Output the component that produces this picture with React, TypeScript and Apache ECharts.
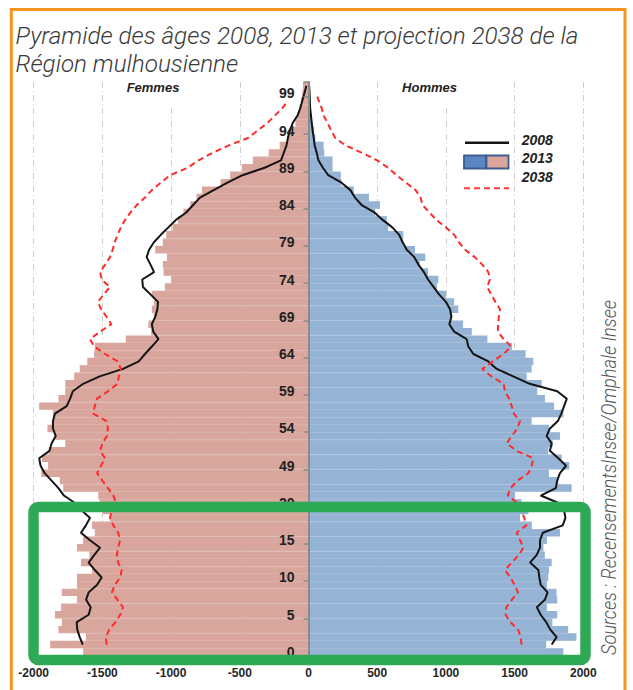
import React, { useEffect, useRef } from "react";
import * as echarts from "echarts";

// ---- data ----
const ages = [
  0, 1, 2, 3, 4, 5, 6, 7, 8, 9, 10, 11, 12, 13, 14, 15, 16, 17, 18, 19, 20,
  45, 46, 47, 48, 49, 50, 51, 52, 53, 54, 55, 56, 57, 58, 59, 60, 61, 62, 63, 64,
  65, 66, 67, 68, 69, 70, 71, 72, 73, 74, 75, 76, 77, 78, 79, 80, 81, 82, 83, 84,
  85, 86, 87, 88, 89, 90, 91, 92, 93, 94, 95, 96, 97, 98, 99, 100,
];

const femmes2013 = [
  1640, 1880, 1620, 1820, 1795, 1845, 1800, 1685, 1795, 1685, 1685, 1575, 1655, 1595, 1685, 1640, 1555, 1575, 1445, 1495, 1520,
  1530, 1785, 1810, 1945, 1895, 1940, 1890, 1770, 1845, 1900, 1860, 1860, 1960, 1820, 1770, 1770, 1705, 1665, 1610, 1560,
  1555, 1330, 1145, 1165, 1125, 1140, 1125, 1140, 1045, 1000, 1055, 1060, 1030, 1115, 1060, 1035, 990, 950, 910, 860,
  815, 775, 640, 570, 485, 405, 290, 210, 155, 115, 95, 80, 65, 55, 45, 40,
];

const hommes2013 = [
  1855, 1730, 1950, 1890, 1775, 1810, 1735, 1810, 1805, 1735, 1745, 1750, 1770, 1720, 1710, 1735, 1830, 1625, 1540, 1600, 1550,
  1503, 1915, 1818, 1750, 1898, 1843, 1746, 1777, 1830, 1750, 1624, 1855, 1787, 1721, 1665, 1697, 1588, 1624, 1636, 1580,
  1480, 1302, 1188, 1125, 1040, 1090, 1060, 1000, 935, 945, 870, 810, 850, 775, 690, 690, 580, 570, 485, 520,
  440, 330, 240, 235, 175, 175, 115, 110, 50, 40, 25, 18, 12, 8, 5, 3,
];

const femmes2008 = [
  null, 1643, 1665, 1683, 1687, 1600, 1585, 1619, 1600, 1540, 1505, 1555, 1600, 1560, 1517, 1590, 1656, 1620, 1590, 1650, 1700,
  1780, 1820, 1870, 1920, 1950, 1960, 1885, 1870, 1840, 1860, 1860, 1845, 1760, 1735, 1715, 1640, 1520, 1350, 1235, 1190,
  1140, 1092, 1130, 1140, 1115, 1100, 1095, 1150, 1205, 1210, 1124, 1150, 1178, 1160, 1125, 1075, 1020, 965, 890, 840,
  790, 690, 590, 480, 320, 200, 180, 160, 150, 135, 115, 80, 60, 45, 30, 15,
];

const hommes2008 = [
  null, 1770, 1806, 1760, 1730, 1690, 1662, 1720, 1740, 1690, 1680, 1673, 1612, 1660, 1685, 1685, 1705, 1850, 1870, 1860, 1820,
  1690, 1800, 1810, 1830, 1875, 1818, 1757, 1770, 1733, 1757, 1815, 1840, 1860, 1880, 1810, 1610, 1490, 1370, 1309, 1200,
  1163, 1151, 1060, 1025, 1040, 1030, 1000, 950, 910, 870, 840, 800, 770, 715, 685, 660, 610, 540, 480, 387,
  338, 305, 240, 144, 105, 72, 60, 45, 38, 30, 24, 18, 12, 10, 8, 5,
];

const femmes2038 = [
  null, 1469, 1475, 1450, 1405, 1370, 1350, 1390, 1430, 1410, 1370, 1360, 1385, 1395, 1385, 1372, 1385, 1420, 1445, 1430, 1400,
  1420, 1460, 1500, 1539, 1510, 1481, 1517, 1500, 1467, 1460, 1470, 1568, 1555, 1539, 1460, 1390, 1380, 1365, 1390, 1480,
  1560, 1590, 1517, 1435, 1470, 1510, 1532, 1490, 1445, 1505, 1517, 1480, 1445, 1425, 1410, 1390, 1365, 1335, 1295, 1250,
  1190, 1140, 1075, 1008, 880, 800, 700, 580, 440, 370, 300, 245, 190, 150, null, null,
];

const hommes2038 = [
  null, 1550, 1545, 1525, 1470, 1435, 1440, 1480, 1525, 1500, 1470, 1430, 1480, 1530, 1564, 1540, 1515, 1585, 1570, 1550, 1520,
  1450, 1470, 1520, 1600, 1625, 1636, 1515, 1442, 1480, 1520, 1539, 1495, 1479, 1460, 1430, 1420, 1330, 1265, 1340, 1420,
  1475, 1420, 1378, 1380, 1385, 1394, 1360, 1330, 1300, 1320, 1309, 1265, 1210, 1140, 1095, 1060, 1000, 930, 880, 830,
  815, 780, 710, 640, 580, 500, 390, 270, 195, 165, 140, 110, 96, 75, 55, null,
];

const xTicks = [-2000, -1500, -1000, -500, 0, 500, 1000, 1500, 2000];
const legendLabels = ["2008", "2013", "2038"];
const sideLabels = ["Femmes", "Hommes"];
const titleLines = [
  "Pyramide des âges 2008, 2013 et projection 2038 de la",
  "Région mulhousienne",
];
const sourceText = "Sources : RecensementsInsee/Omphale Insee";

// ---- helpers ----
function measure(text: string, font: string): number {
  const c = document.createElement("canvas").getContext("2d");
  if (!c) return text.length * 10;
  c.font = font;
  return c.measureText(text).width;
}
const neg = (arr: (number | null)[]) => arr.map((v) => (v == null ? null : -v));

const GRID_LEFT = 33.7;
const GRID_RIGHT = 49.7;
const PLOT_W = 633 - GRID_LEFT - GRID_RIGHT;

export default function App() {
  const ref = useRef<HTMLDivElement>(null);

  useEffect(() => {
    if (!ref.current) return;
    const chart = echarts.init(ref.current, null, { renderer: "svg" });

    const titleFont = 'italic 300 24px Roboto';
    const titleScale = 563 / measure(titleLines[0], titleFont);
    const srcFont = 'italic 300 20px Roboto';
    const srcScale = 355 / measure(sourceText, srcFont);

    const labelFont = 'bold italic 13px "Liberation Sans"';
    const legFont = 'bold italic 14px "Liberation Sans"';

    const pink = "#D8A69C";
    const blue = "#95B3D5";

    const option: any = {
      animation: false,
      backgroundColor: "#ffffff",
      grid: {
        left: GRID_LEFT,
        right: GRID_RIGHT,
        top: 82.1,
        bottom: 34.3,
        containLabel: false,
        outerBoundsMode: "none",
      },
      xAxis: {
        type: "value",
        min: xTicks[0],
        max: xTicks[xTicks.length - 1],
        interval: 500,
        axisLine: { show: false },
        axisTick: { show: false },
        splitLine: {
          show: true,
          lineStyle: { color: "#cdcdcd", width: 1, type: [6, 3, 1, 3] },
        },
        axisLabel: {
          color: "#262626",
          fontFamily: "Liberation Sans",
          fontWeight: "bold",
          fontSize: 12,
          margin: 11,
          formatter: (v: number) => String(v),
        },
      },
      yAxis: {
        type: "category",
        position: "left",
        offset: -PLOT_W / 2,
        data: ages.map(String),
        boundaryGap: true,
        axisLine: { show: true, onZero: false, lineStyle: { color: "#8a8a8a", width: 2 } },
        axisTick: { show: true, interval: 4, length: 5, lineStyle: { color: "#8a8a8a", width: 1.5 } },
        axisLabel: {
          interval: 4,
          margin: 14,
          color: "#222",
          fontFamily: "Liberation Sans",
          fontWeight: "bold",
          fontSize: 14,
        },
        splitLine: { show: false },
        z: 5,
      },
      series: [
        {
          name: "Femmes 2013",
          type: "bar",
          stack: "pop",
          data: neg(femmes2013),
          barCategoryGap: "0%",
          itemStyle: { color: pink, borderColor: pink, borderWidth: 1.2 },
          silent: true,
        },
        {
          name: "Hommes 2013",
          type: "bar",
          stack: "pop",
          data: hommes2013,
          barCategoryGap: "0%",
          itemStyle: { color: blue, borderColor: blue, borderWidth: 1.2 },
          silent: true,
        },
        {
          name: "Femmes 2008",
          type: "line",
          data: neg(femmes2008),
          symbol: "none",
          lineStyle: { color: "#151515", width: 2 },
          silent: true,
        },
        {
          name: "Hommes 2008",
          type: "line",
          data: hommes2008,
          symbol: "none",
          lineStyle: { color: "#151515", width: 2 },
          silent: true,
        },
        {
          name: "Femmes 2038",
          type: "line",
          data: neg(femmes2038),
          symbol: "none",
          lineStyle: { color: "#FF2B2B", width: 2, type: [6, 4] },
          silent: true,
        },
        {
          name: "Hommes 2038",
          type: "line",
          data: hommes2038,
          symbol: "none",
          lineStyle: { color: "#FF2B2B", width: 2, type: [6, 4] },
          silent: true,
        },
      ],
      graphic: [
        // orange outer border
        {
          type: "rect",
          z: 120,
          shape: { x: 11.3, y: 9.5, width: 613.7, height: 720 },
          style: { fill: "none", stroke: "#F7941D", lineWidth: 3 },
        },
        // title
        {
          type: "text",
          x: 15.5,
          y: 36.3,
          scaleX: titleScale,
          z: 120,
          style: { text: titleLines[0], font: titleFont, fill: "#3a3a3a", align: "left", verticalAlign: "middle" },
        },
        {
          type: "text",
          x: 15.5,
          y: 64,
          scaleX: titleScale,
          z: 120,
          style: { text: titleLines[1], font: titleFont, fill: "#3a3a3a", align: "left", verticalAlign: "middle" },
        },
        // white boxes behind side labels (hide grid lines)
        {
          type: "rect",
          z: 10,
          shape: { x: 124, y: 80, width: 62, height: 27 },
          style: { fill: "#ffffff" },
        },
        {
          type: "rect",
          z: 10,
          shape: { x: 398, y: 80, width: 64, height: 27 },
          style: { fill: "#ffffff" },
        },
        {
          type: "text",
          x: 153,
          y: 87,
          z: 120,
          style: { text: sideLabels[0], font: labelFont, fill: "#222", align: "center", verticalAlign: "middle" },
        },
        {
          type: "text",
          x: 429.5,
          y: 87,
          z: 120,
          style: { text: sideLabels[1], font: labelFont, fill: "#222", align: "center", verticalAlign: "middle" },
        },
        // legend
        {
          type: "line",
          z: 120,
          shape: { x1: 465, y1: 142.7, x2: 509, y2: 142.7 },
          style: { stroke: "#151515", lineWidth: 2.5 },
        },
        {
          type: "rect",
          z: 120,
          shape: { x: 464, y: 155.5, width: 22, height: 13 },
          style: { fill: "#5A86C3", stroke: "#3C5F8E", lineWidth: 1.8 },
        },
        {
          type: "rect",
          z: 120,
          shape: { x: 486.5, y: 155.5, width: 22, height: 13 },
          style: { fill: "#DAA69C", stroke: "#3C5F8E", lineWidth: 1.8 },
        },
        {
          type: "line",
          z: 120,
          shape: { x1: 464, y1: 188.3, x2: 509, y2: 188.3 },
          style: { stroke: "#FF3B3B", lineWidth: 2, lineDash: [6, 4] },
        },
        {
          type: "text",
          x: 521.7,
          y: 139.5,
          z: 120,
          style: { text: legendLabels[0], font: legFont, fill: "#222", align: "left", verticalAlign: "middle" },
        },
        {
          type: "text",
          x: 521.7,
          y: 158,
          z: 120,
          style: { text: legendLabels[1], font: legFont, fill: "#222", align: "left", verticalAlign: "middle" },
        },
        {
          type: "text",
          x: 521.7,
          y: 177,
          z: 120,
          style: { text: legendLabels[2], font: legFont, fill: "#222", align: "left", verticalAlign: "middle" },
        },
        // green highlight frame
        {
          type: "rect",
          z: 130,
          shape: { x: 33.5, y: 507, width: 552, height: 153, r: 5 },
          style: { fill: "none", stroke: "#2EAA57", lineWidth: 10.5 },
        },
        // source (rotated)
        {
          type: "text",
          x: 609,
          y: 477.5,
          rotation: Math.PI / 2,
          scaleX: srcScale,
          z: 120,
          style: { text: sourceText, font: srcFont, fill: "#555", align: "center", verticalAlign: "middle" },
        },
      ],
    };

    chart.setOption(option);
    return () => chart.dispose();
  }, []);

  return (
    <div
      ref={ref}
      style={{ position: "fixed", left: 0, top: 0, width: 633, height: 690, background: "#fff" }}
    />
  );
}
